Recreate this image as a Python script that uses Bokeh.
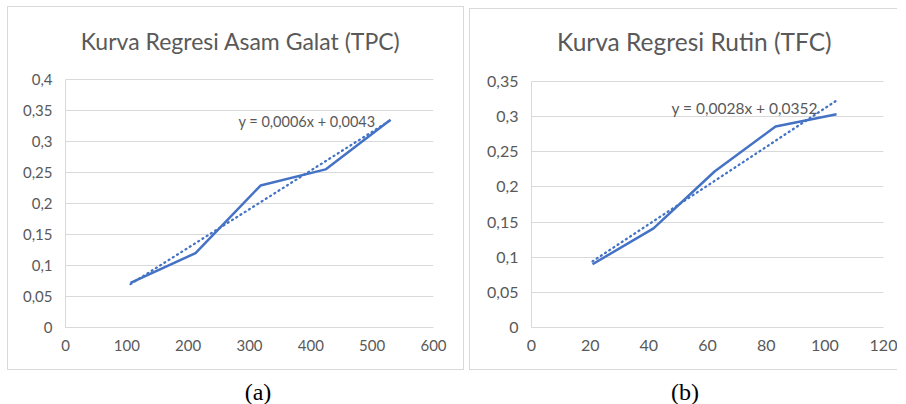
import numpy as np
from bokeh.plotting import figure
from bokeh.layouts import row, column
from bokeh.models import Label, Div, FixedTicker, CustomJSTickFormatter, Range1d
from bokeh.embed import file_html
from bokeh.resources import INLINE

# ---- data ----
tpc_title = "Kurva Regresi Asam Galat (TPC)"
tpc_x = [106, 212, 318, 424, 530]
tpc_y = [0.072, 0.120, 0.229, 0.255, 0.335]
tpc_eq = "y = 0,0006x + 0,0043"
tpc_xticks = [0, 100, 200, 300, 400, 500, 600]
tpc_yticks = [0, 0.05, 0.1, 0.15, 0.2, 0.25, 0.3, 0.35, 0.4]

tfc_title = "Kurva Regresi Rutin (TFC)"
tfc_x = [20.8, 41.6, 62.4, 83.2, 104]
tfc_y = [0.090, 0.141, 0.222, 0.286, 0.3035]
tfc_eq = "y = 0,0028x + 0,0352"
tfc_xticks = [0, 20, 40, 60, 80, 100, 120]
tfc_yticks = [0, 0.05, 0.1, 0.15, 0.2, 0.25, 0.3, 0.35]

captions = ["(a)", "(b)"]

BLUE = "#4472C4"
GREY = "#595959"
LIGHT = "#d9d9d9"
FONT = "Lato"

fmt = CustomJSTickFormatter(code="""
var s = tick.toFixed(2).replace(/0+$/, '').replace(/\\.$/, '');
return s.replace('.', ',');
""")


def make_chart(title, xs, ys, eq, xticks, yticks, eq_x, eq_y, t_x, t_top,
               width, height, mbl, mbr, top_space, mbb, margin, styles,
               title_size, tick_size, eq_size):
    # the frame reaches the top of the chart box; the title lives in the
    # top strip of the frame, above the last y tick
    frame_h = height - mbb
    ppu = (frame_h - top_space) / (yticks[-1] - yticks[0])
    y_top = yticks[-1] + top_space / ppu
    p = figure(width=width, height=height, output_backend="svg",
               toolbar_location=None,
               x_range=Range1d(xticks[0], xticks[-1]),
               y_range=Range1d(yticks[0], y_top),
               min_border_left=mbl, min_border_right=mbr,
               min_border_top=0, min_border_bottom=mbb,
               margin=margin, styles=styles)
    p.outline_line_color = None
    p.background_fill_color = "white"
    p.border_fill_color = "white"

    p.xaxis.ticker = FixedTicker(ticks=xticks)
    p.yaxis.ticker = FixedTicker(ticks=yticks)
    p.yaxis.bounds = (yticks[0], yticks[-1])
    for ax in (p.xaxis[0], p.yaxis[0]):
        ax.formatter = fmt
        ax.axis_line_color = LIGHT
        ax.axis_line_width = 1
        ax.major_tick_line_color = None
        ax.minor_tick_line_color = None
        ax.major_tick_in = 0
        ax.major_tick_out = 0
        ax.minor_tick_in = 0
        ax.minor_tick_out = 0
        ax.major_label_text_font = FONT
        ax.major_label_text_font_size = tick_size
        ax.major_label_text_color = GREY
    p.yaxis.major_label_standoff = 13
    p.xaxis.major_label_standoff = 12
    p.xgrid.grid_line_color = None
    p.ygrid.grid_line_color = LIGHT
    p.ygrid.grid_line_width = 1

    # trendline (least squares of the data)
    m, b = np.polyfit(xs, ys, 1)
    tx = [min(xs), max(xs)]
    ty = [m * v + b for v in tx]
    p.line(tx, ty, line_color=BLUE, line_width=2.25, line_dash="1 4",
           line_cap="round")
    p.line(xs, ys, line_color=BLUE, line_width=2.5)

    p.add_layout(Label(x=eq_x, y=eq_y, text=eq, text_font=FONT,
                       text_font_size=eq_size, text_color=GREY,
                       text_baseline="middle", text_align="left"))
    # chart title, centred over the chart box
    p.add_layout(Label(x=t_x, y=y_top - t_top / ppu, text=title, text_font=FONT,
                       text_font_size=title_size, text_color=GREY,
                       text_baseline="middle", text_align="center"))
    return p


border = {"border-top": "1px solid #d9d9d9", "border-left": "1px solid #d9d9d9",
          "border-bottom": "1px solid #d9d9d9", "border-right": "1px solid #d9d9d9"}
border_b = {"border-top": "1px solid #d9d9d9", "border-left": "1px solid #d9d9d9",
            "border-bottom": "1px solid #d9d9d9"}

pa = make_chart(tpc_title, tpc_x, tpc_y, tpc_eq, tpc_xticks, tpc_yticks, 282, 0.332,
                285.5, 33,
                457, 364, 57, 32, 72, 44, (6, 0, 0, 7), border,
                "23px", "15px", "14.5px")
pb = make_chart(tfc_title, tfc_x, tfc_y, tfc_eq, tfc_xticks, tfc_yticks, 47.7, 0.3125,
                55.5, 31.5,
                428, 362, 61, 15, 72, 44, (8, 0, 0, 5), border_b,
                "24.5px", "16px", "15.5px")

cap_style = {"font-family": "Liberation Serif", "font-size": "24px",
             "text-align": "center", "color": "#000"}
ca = Div(text=captions[0], width=516, height=28, margin=(5, 0, 0, 0),
         styles=cap_style)
cb = Div(text=captions[1], width=338, height=28, margin=(5, 0, 0, 0),
         styles=cap_style)

layout = column(row(pa, pb), row(ca, cb))
open("out.html", "w").write(file_html(layout, INLINE))
